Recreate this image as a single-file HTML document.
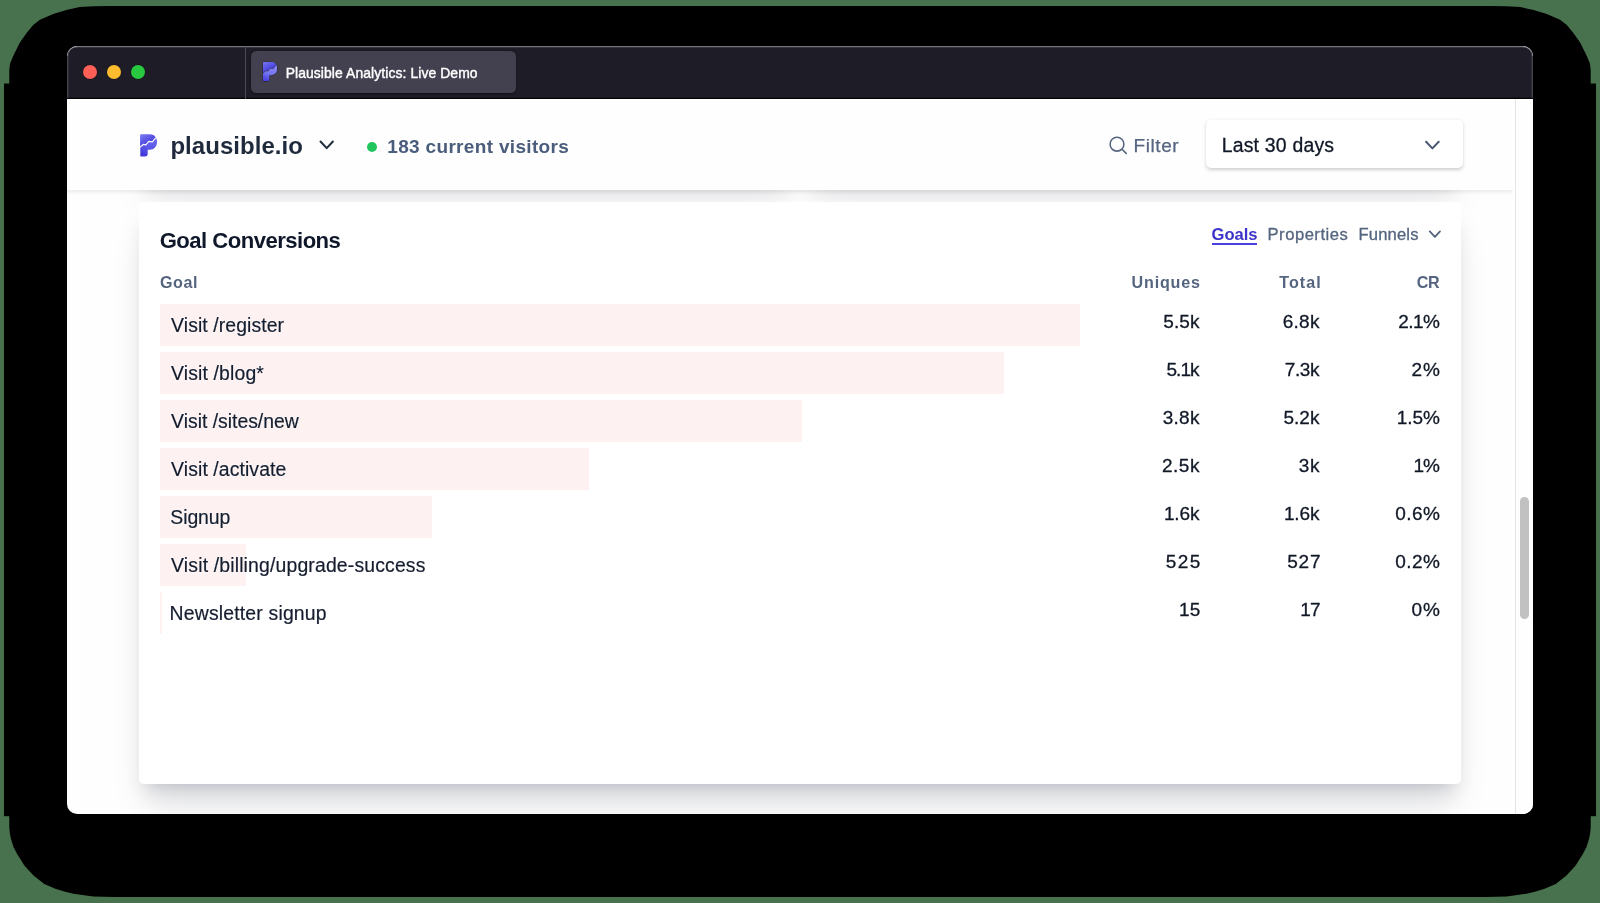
<!DOCTYPE html>
<html><head><meta charset="utf-8"><title>Plausible Analytics: Live Demo</title>
<style>
html,body{margin:0;padding:0}
body{width:1600px;height:903px;position:relative;overflow:hidden;background:#48724d;font-family:"Liberation Sans",sans-serif;}
div{box-sizing:border-box}
</style></head><body>

<svg width="1600" height="903" style="position:absolute;left:0;top:0"><polygon points="9.3,69.9 10.0,63.7 13.3,55.7 19.9,42.4 26.6,33.1 33.2,25.1 39.9,19.8 53.2,13.9 66.4,9.9 79.7,7.1 93.3,6.2 109.3,5.9 1490.7,5.9 1506.7,6.2 1520.3,7.1 1533.6,9.9 1546.8,13.9 1560.1,19.8 1566.8,25.1 1573.4,33.1 1580.1,42.4 1586.7,55.7 1590.0,63.7 1590.7,69.9 1590.7,827.0 1590.2,833.0 1589.0,839.0 1586.5,847.0 1582.3,855.0 1578.7,860.4 1575.7,865.4 1566.5,875.5 1555.7,884.0 1544.7,888.7 1535.7,891.5 1526.7,893.7 1506.7,896.5 1485.7,897.0 114.3,897.0 93.3,896.5 73.3,893.7 64.3,891.5 55.3,888.7 44.3,884.0 33.5,875.5 24.3,865.4 21.3,860.4 17.7,855.0 13.5,847.0 11.0,839.0 9.8,833.0 9.3,827.0" fill="#000"/><rect x="4" y="83.5" width="1592" height="732.7" fill="#000"/></svg>
<div style="position:absolute;left:67px;top:45.7px;width:1466px;height:768.3px;border-radius:10px;overflow:hidden;background:#fefefe;">
<div style="position:absolute;left:-67px;top:-45.7px;width:1600px;height:903px;will-change:transform;">
<div style="position:absolute;left:138.67px;top:60px;width:657.33px;height:116px;background:#fff;border-radius:5px;box-shadow:0 26.67px 33.33px -6.67px rgba(10,20,45,.115),0 10.67px 13.33px -8px rgba(10,20,45,.1),0 14px 24px -2px rgba(10,20,45,.07)"></div>
<div style="position:absolute;left:804px;top:60px;width:657.3299999999999px;height:116px;background:#fff;border-radius:5px;box-shadow:0 26.67px 33.33px -6.67px rgba(10,20,45,.115),0 10.67px 13.33px -8px rgba(10,20,45,.1),0 14px 24px -2px rgba(10,20,45,.07)"></div>
<div style="position:absolute;left:138.67px;top:202.25px;width:1322.6599999999999px;height:581.75px;background:#fff;border-radius:5px;box-shadow:0 26.67px 33.33px -6.67px rgba(10,20,45,.115),0 10.67px 13.33px -8px rgba(10,20,45,.1),0 14px 24px -2px rgba(10,20,45,.07)"></div>
<div style="position:absolute;top:226px;line-height:29px;font-size:22.1px;font-weight:700;color:#0f172a;white-space:nowrap;letter-spacing:-0.527px;left:159.69px;">Goal Conversions</div>
<div style="position:absolute;top:223px;line-height:23px;font-size:16.6px;font-weight:700;color:#3c34c9;white-space:nowrap;letter-spacing:-0.017px;left:1211.52px;">Goals</div>
<div style="position:absolute;left:1212px;top:243px;width:45px;height:2px;background:#4a41de"></div>
<div style="position:absolute;top:223px;line-height:23px;font-size:16.6px;font-weight:400;color:#55657f;white-space:nowrap;letter-spacing:0.512px;-webkit-text-stroke:0.3px #55657f;left:1267.54px;">Properties</div>
<div style="position:absolute;top:223px;line-height:23px;font-size:16.6px;font-weight:400;color:#55657f;white-space:nowrap;letter-spacing:0.151px;-webkit-text-stroke:0.3px #55657f;left:1358.54px;">Funnels</div>
<svg width="1600" height="903" style="position:absolute;left:0;top:0;pointer-events:none"><path d="M1429.80 231.40 L1434.90 236.80 L1440.00 231.40" fill="none" stroke="#55657f" stroke-width="1.8" stroke-linecap="round" stroke-linejoin="round"/></svg>
<div style="position:absolute;top:271px;line-height:22px;font-size:16.1px;font-weight:700;color:#55657f;white-space:nowrap;letter-spacing:0.555px;left:159.94px;">Goal</div>
<div style="position:absolute;top:271px;line-height:22px;font-size:16.1px;font-weight:700;color:#55657f;white-space:nowrap;letter-spacing:0.836px;left:1131.53px;">Uniques</div>
<div style="position:absolute;top:271px;line-height:22px;font-size:16.1px;font-weight:700;color:#55657f;white-space:nowrap;letter-spacing:1.015px;left:1279.32px;">Total</div>
<div style="position:absolute;top:271px;line-height:22px;font-size:16.1px;font-weight:700;color:#55657f;white-space:nowrap;letter-spacing:-0.263px;left:1416.74px;">CR</div>
<div style="position:absolute;left:160px;top:304px;width:920px;height:41.85px;background:#fdf1f1"></div>
<div style="position:absolute;top:312px;line-height:26px;font-size:19.4px;font-weight:400;color:#151d2f;white-space:nowrap;letter-spacing:0.089px;-webkit-text-stroke:0.2px #151d2f;left:171.11px;text-shadow:0 0 1px #fff,0 0 1px #fff,0 0 1px #fff,0 0 2px #fff;">Visit /register</div>
<div style="position:absolute;top:309px;line-height:25px;font-size:19.0px;font-weight:400;color:#111827;white-space:nowrap;letter-spacing:0.107px;-webkit-text-stroke:0.3px #111827;left:1163.24px;">5.5k</div>
<div style="position:absolute;top:309px;line-height:25px;font-size:19.0px;font-weight:400;color:#111827;white-space:nowrap;letter-spacing:0.308px;-webkit-text-stroke:0.3px #111827;left:1282.64px;">6.8k</div>
<div style="position:absolute;top:309px;line-height:25px;font-size:19.0px;font-weight:400;color:#111827;white-space:nowrap;letter-spacing:-0.591px;-webkit-text-stroke:0.3px #111827;left:1398.34px;">2.1%</div>
<div style="position:absolute;left:160px;top:352px;width:844px;height:41.85px;background:#fdf1f1"></div>
<div style="position:absolute;top:360px;line-height:26px;font-size:19.4px;font-weight:400;color:#151d2f;white-space:nowrap;letter-spacing:0.135px;-webkit-text-stroke:0.2px #151d2f;left:171.11px;text-shadow:0 0 1px #fff,0 0 1px #fff,0 0 1px #fff,0 0 2px #fff;">Visit /blog*</div>
<div style="position:absolute;top:357px;line-height:25px;font-size:19.0px;font-weight:400;color:#111827;white-space:nowrap;letter-spacing:-0.993px;-webkit-text-stroke:0.3px #111827;left:1166.54px;">5.1k</div>
<div style="position:absolute;top:357px;line-height:25px;font-size:19.0px;font-weight:400;color:#111827;white-space:nowrap;letter-spacing:-0.422px;-webkit-text-stroke:0.3px #111827;left:1284.83px;">7.3k</div>
<div style="position:absolute;top:357px;line-height:25px;font-size:19.0px;font-weight:400;color:#111827;white-space:nowrap;letter-spacing:0.872px;-webkit-text-stroke:0.3px #111827;left:1411.54px;">2%</div>
<div style="position:absolute;left:160px;top:400px;width:642px;height:41.85px;background:#fdf1f1"></div>
<div style="position:absolute;top:408px;line-height:26px;font-size:19.4px;font-weight:400;color:#151d2f;white-space:nowrap;letter-spacing:-0.014px;-webkit-text-stroke:0.2px #151d2f;left:171.11px;text-shadow:0 0 1px #fff,0 0 1px #fff,0 0 1px #fff,0 0 2px #fff;">Visit /sites/new</div>
<div style="position:absolute;top:405px;line-height:25px;font-size:19.0px;font-weight:400;color:#111827;white-space:nowrap;letter-spacing:0.311px;-webkit-text-stroke:0.3px #111827;left:1162.63px;">3.8k</div>
<div style="position:absolute;top:405px;line-height:25px;font-size:19.0px;font-weight:400;color:#111827;white-space:nowrap;letter-spacing:0.04px;-webkit-text-stroke:0.3px #111827;left:1283.44px;">5.2k</div>
<div style="position:absolute;top:405px;line-height:25px;font-size:19.0px;font-weight:400;color:#111827;white-space:nowrap;letter-spacing:-0.061px;-webkit-text-stroke:0.3px #111827;left:1396.75px;">1.5%</div>
<div style="position:absolute;left:160px;top:448px;width:429px;height:41.85px;background:#fdf1f1"></div>
<div style="position:absolute;top:456px;line-height:26px;font-size:19.4px;font-weight:400;color:#151d2f;white-space:nowrap;letter-spacing:0.094px;-webkit-text-stroke:0.2px #151d2f;left:171.11px;text-shadow:0 0 1px #fff,0 0 1px #fff,0 0 1px #fff,0 0 2px #fff;">Visit /activate</div>
<div style="position:absolute;top:453px;line-height:25px;font-size:19.0px;font-weight:400;color:#111827;white-space:nowrap;letter-spacing:0.538px;-webkit-text-stroke:0.3px #111827;left:1161.94px;">2.5k</div>
<div style="position:absolute;top:453px;line-height:25px;font-size:19.0px;font-weight:400;color:#111827;white-space:nowrap;letter-spacing:0.629px;-webkit-text-stroke:0.3px #111827;left:1298.78px;">3k</div>
<div style="position:absolute;top:453px;line-height:25px;font-size:19.0px;font-weight:400;color:#111827;white-space:nowrap;letter-spacing:-1.136px;-webkit-text-stroke:0.3px #111827;left:1413.55px;">1%</div>
<div style="position:absolute;left:160px;top:496px;width:272px;height:41.85px;background:#fdf1f1"></div>
<div style="position:absolute;top:504px;line-height:26px;font-size:19.4px;font-weight:400;color:#151d2f;white-space:nowrap;letter-spacing:-0.072px;-webkit-text-stroke:0.2px #151d2f;left:170.32px;text-shadow:0 0 1px #fff,0 0 1px #fff,0 0 1px #fff,0 0 2px #fff;">Signup</div>
<div style="position:absolute;top:501px;line-height:25px;font-size:19.0px;font-weight:400;color:#111827;white-space:nowrap;letter-spacing:-0.131px;-webkit-text-stroke:0.3px #111827;left:1163.95px;">1.6k</div>
<div style="position:absolute;top:501px;line-height:25px;font-size:19.0px;font-weight:400;color:#111827;white-space:nowrap;letter-spacing:-0.131px;-webkit-text-stroke:0.3px #111827;left:1283.95px;">1.6k</div>
<div style="position:absolute;top:501px;line-height:25px;font-size:19.0px;font-weight:400;color:#111827;white-space:nowrap;letter-spacing:0.438px;-webkit-text-stroke:0.3px #111827;left:1395.26px;">0.6%</div>
<div style="position:absolute;left:160px;top:544px;width:85.69999999999999px;height:41.85px;background:#fdf1f1"></div>
<div style="position:absolute;top:552px;line-height:26px;font-size:19.4px;font-weight:400;color:#151d2f;white-space:nowrap;letter-spacing:0.158px;-webkit-text-stroke:0.2px #151d2f;left:171.11px;text-shadow:0 0 1px #fff,0 0 1px #fff,0 0 1px #fff,0 0 2px #fff;">Visit /billing/upgrade-success</div>
<div style="position:absolute;top:549px;line-height:25px;font-size:19.0px;font-weight:400;color:#111827;white-space:nowrap;letter-spacing:1.479px;-webkit-text-stroke:0.3px #111827;left:1165.64px;">525</div>
<div style="position:absolute;top:549px;line-height:25px;font-size:19.0px;font-weight:400;color:#111827;white-space:nowrap;letter-spacing:0.708px;-webkit-text-stroke:0.3px #111827;left:1287.34px;">527</div>
<div style="position:absolute;top:549px;line-height:25px;font-size:19.0px;font-weight:400;color:#111827;white-space:nowrap;letter-spacing:0.438px;-webkit-text-stroke:0.3px #111827;left:1395.26px;">0.2%</div>
<div style="position:absolute;left:160px;top:592px;width:2.0px;height:41.85px;background:#fdf1f1"></div>
<div style="position:absolute;top:600px;line-height:26px;font-size:19.4px;font-weight:400;color:#151d2f;white-space:nowrap;letter-spacing:0.176px;-webkit-text-stroke:0.2px #151d2f;left:169.61px;text-shadow:0 0 1px #fff,0 0 1px #fff,0 0 1px #fff,0 0 2px #fff;">Newsletter signup</div>
<div style="position:absolute;top:597px;line-height:25px;font-size:19.0px;font-weight:400;color:#111827;white-space:nowrap;letter-spacing:0.111px;-webkit-text-stroke:0.3px #111827;left:1179.05px;">15</div>
<div style="position:absolute;top:597px;line-height:25px;font-size:19.0px;font-weight:400;color:#111827;white-space:nowrap;letter-spacing:-1.031px;-webkit-text-stroke:0.3px #111827;left:1300.35px;">17</div>
<div style="position:absolute;top:597px;line-height:25px;font-size:19.0px;font-weight:400;color:#111827;white-space:nowrap;letter-spacing:0.958px;-webkit-text-stroke:0.3px #111827;left:1411.46px;">0%</div>
<div style="position:absolute;left:0;top:99px;width:1516px;height:91px;background:#fefefe;box-shadow:0 5.3px 2.7px -2.7px rgba(0,0,0,.07)"></div>
<svg viewBox="-3 -3 52 66" width="19.22" height="24.97" style="position:absolute;left:138.89px;top:133.06px" preserveAspectRatio="none">
<defs><clipPath id="lg1c"><path d="M3.5 0 H26 C37.5 0 46 9 46 20.5 C46 32 37.5 41 26 41 H20.5 V52.5 C20.5 56.6 17.1 60 13 60 H3.5 C1.6 60 0 58.4 0 56.5 V3.5 C0 1.6 1.6 0 3.5 0 Z"/></clipPath>
<linearGradient id="lg1u" x1="0" y1="0" x2="0.75" y2="1"><stop offset="0" stop-color="#8084f3"/><stop offset="0.75" stop-color="#473bdc"/></linearGradient>
<linearGradient id="lg1l" x1="0.6" y1="0" x2="0.35" y2="1"><stop offset="0" stop-color="#6d6ff0"/><stop offset="0.6" stop-color="#5a56e8"/><stop offset="1" stop-color="#4035da"/></linearGradient></defs>
<g clip-path="url(#lg1c)"><rect x="0" y="0" width="46" height="60" fill="url(#lg1l)"/>
<path d="M-2 -2 H48 V5.5 L41.9 10 L33.2 20.3 L23.5 19.3 L14.9 28.8 L9.7 26.7 L-2 35.5 Z" fill="url(#lg1u)"/>
<path d="M-2 35.5 L9.7 26.7 L14.9 28.8 L23.5 19.3 L33.2 20.3 L41.9 10 L48 5.5" fill="none" stroke="#fff" stroke-width="3.1" stroke-linejoin="round"/></g></svg>
<div style="position:absolute;top:130px;line-height:31px;font-size:24.0px;font-weight:700;color:#1f2a3c;white-space:nowrap;letter-spacing:0.045px;left:170.42px;">plausible.io</div>
<svg width="1600" height="903" style="position:absolute;left:0;top:0;pointer-events:none"><path d="M320.50 141.50 L326.70 148.10 L332.90 141.50" fill="none" stroke="#1f2a3c" stroke-width="2" stroke-linecap="round" stroke-linejoin="round"/></svg>
<div style="position:absolute;left:366.7px;top:141.7px;width:10.3px;height:10.3px;border-radius:50%;background:#22c55e"></div>
<div style="position:absolute;top:134px;line-height:25px;font-size:19.0px;font-weight:700;color:#4a5d7c;white-space:nowrap;letter-spacing:0.325px;left:387.30px;">183 current visitors</div>
<svg width="1600" height="903" style="position:absolute;left:0;top:0"><circle cx="1117" cy="144.2" r="6.9" fill="none" stroke="#55657f" stroke-width="1.55"/><path d="M1122 149.2 L1126.2 153.4" stroke="#55657f" stroke-width="1.55" stroke-linecap="round"/></svg>
<div style="position:absolute;top:133px;line-height:25px;font-size:19.0px;font-weight:400;color:#55657f;white-space:nowrap;letter-spacing:0.571px;-webkit-text-stroke:0.25px #55657f;left:1133.59px;">Filter</div>
<div style="position:absolute;left:1205.5px;top:119.5px;width:257px;height:48.6px;background:#fff;border-radius:5px;box-shadow:0 1.3px 4px rgba(0,0,0,.12),0 1.3px 2.6px rgba(0,0,0,.07)"></div>
<div style="position:absolute;top:132px;line-height:26px;font-size:19.4px;font-weight:400;color:#111827;white-space:nowrap;letter-spacing:0.217px;-webkit-text-stroke:0.3px #111827;left:1221.71px;">Last 30 days</div>
<svg width="1600" height="903" style="position:absolute;left:0;top:0;pointer-events:none"><path d="M1426.10 141.80 L1432.40 148.40 L1438.70 141.80" fill="none" stroke="#475873" stroke-width="2" stroke-linecap="round" stroke-linejoin="round"/></svg>
<div style="position:absolute;left:1515px;top:99px;width:18px;height:716px;background:#fefefe;border-left:1px solid #e4e4e4"></div>
<div style="position:absolute;left:1519.8px;top:497px;width:9.3px;height:122px;border-radius:5px;background:#c1c1c1"></div>
<div style="position:absolute;left:67px;top:45.7px;width:1466px;height:53.4px;background:#1e1c26;border-top-left-radius:10px;border-top-right-radius:10px;box-shadow:inset 0 -1.3px 0 #020205, inset 0 1.3px 0 rgba(255,255,255,.4), inset 1.5px 0 0 rgba(255,255,255,.16), inset -1.5px 0 0 rgba(255,255,255,.16)"></div>
<div style="position:absolute;left:82.64999999999999px;top:64.8px;width:14.4px;height:14.4px;border-radius:50%;background:#fe5f57;box-shadow:0 0 0 .5px rgba(0,0,0,.25)"></div>
<div style="position:absolute;left:106.64999999999999px;top:64.8px;width:14.4px;height:14.4px;border-radius:50%;background:#febc2e;box-shadow:0 0 0 .5px rgba(0,0,0,.25)"></div>
<div style="position:absolute;left:130.65px;top:64.8px;width:14.4px;height:14.4px;border-radius:50%;background:#28c840;box-shadow:0 0 0 .5px rgba(0,0,0,.25)"></div>
<div style="position:absolute;left:245px;top:46px;width:1px;height:53px;background:#4b4954"></div>
<div style="position:absolute;left:250.9px;top:50.5px;width:265.1px;height:42.6px;border-radius:5.5px;background:#434150;box-shadow:0 .5px 2px rgba(0,0,0,.4)"></div>
<svg viewBox="-3 -3 52 66" width="16.28" height="21.34" style="position:absolute;left:261.76px;top:61.43px" preserveAspectRatio="none">
<defs><clipPath id="lg2c"><path d="M3.5 0 H26 C37.5 0 46 9 46 20.5 C46 32 37.5 41 26 41 H20.5 V52.5 C20.5 56.6 17.1 60 13 60 H3.5 C1.6 60 0 58.4 0 56.5 V3.5 C0 1.6 1.6 0 3.5 0 Z"/></clipPath>
<linearGradient id="lg2u" x1="0" y1="0" x2="0.75" y2="1"><stop offset="0" stop-color="#7a7cf4"/><stop offset="0.75" stop-color="#4338e0"/></linearGradient>
<linearGradient id="lg2l" x1="0.6" y1="0" x2="0.35" y2="1"><stop offset="0" stop-color="#9092fa"/><stop offset="0.6" stop-color="#7474f2"/><stop offset="1" stop-color="#4a40e4"/></linearGradient></defs>
<path d="M3.5 0 H26 C37.5 0 46 9 46 20.5 C46 32 37.5 41 26 41 H20.5 V52.5 C20.5 56.6 17.1 60 13 60 H3.5 C1.6 60 0 58.4 0 56.5 V3.5 C0 1.6 1.6 0 3.5 0 Z" fill="none" stroke="#2c2a35" stroke-width="3.5"/><g clip-path="url(#lg2c)"><rect x="0" y="0" width="46" height="60" fill="url(#lg2l)"/>
<path d="M-2 -2 H48 V5.5 L41.9 10 L33.2 20.3 L23.5 19.3 L14.9 28.8 L9.7 26.7 L-2 35.5 Z" fill="url(#lg2u)"/>
<path d="M-2 35.5 L9.7 26.7 L14.9 28.8 L23.5 19.3 L33.2 20.3 L41.9 10 L48 5.5" fill="none" stroke="#373543" stroke-width="2.2" stroke-linejoin="round"/></g></svg>
<div style="position:absolute;top:63px;line-height:20px;font-size:13.9px;font-weight:400;color:#ffffff;white-space:nowrap;letter-spacing:0.094px;-webkit-text-stroke:0.4px #ffffff;left:285.66px;">Plausible Analytics: Live Demo</div>
</div></div>
</body></html>
